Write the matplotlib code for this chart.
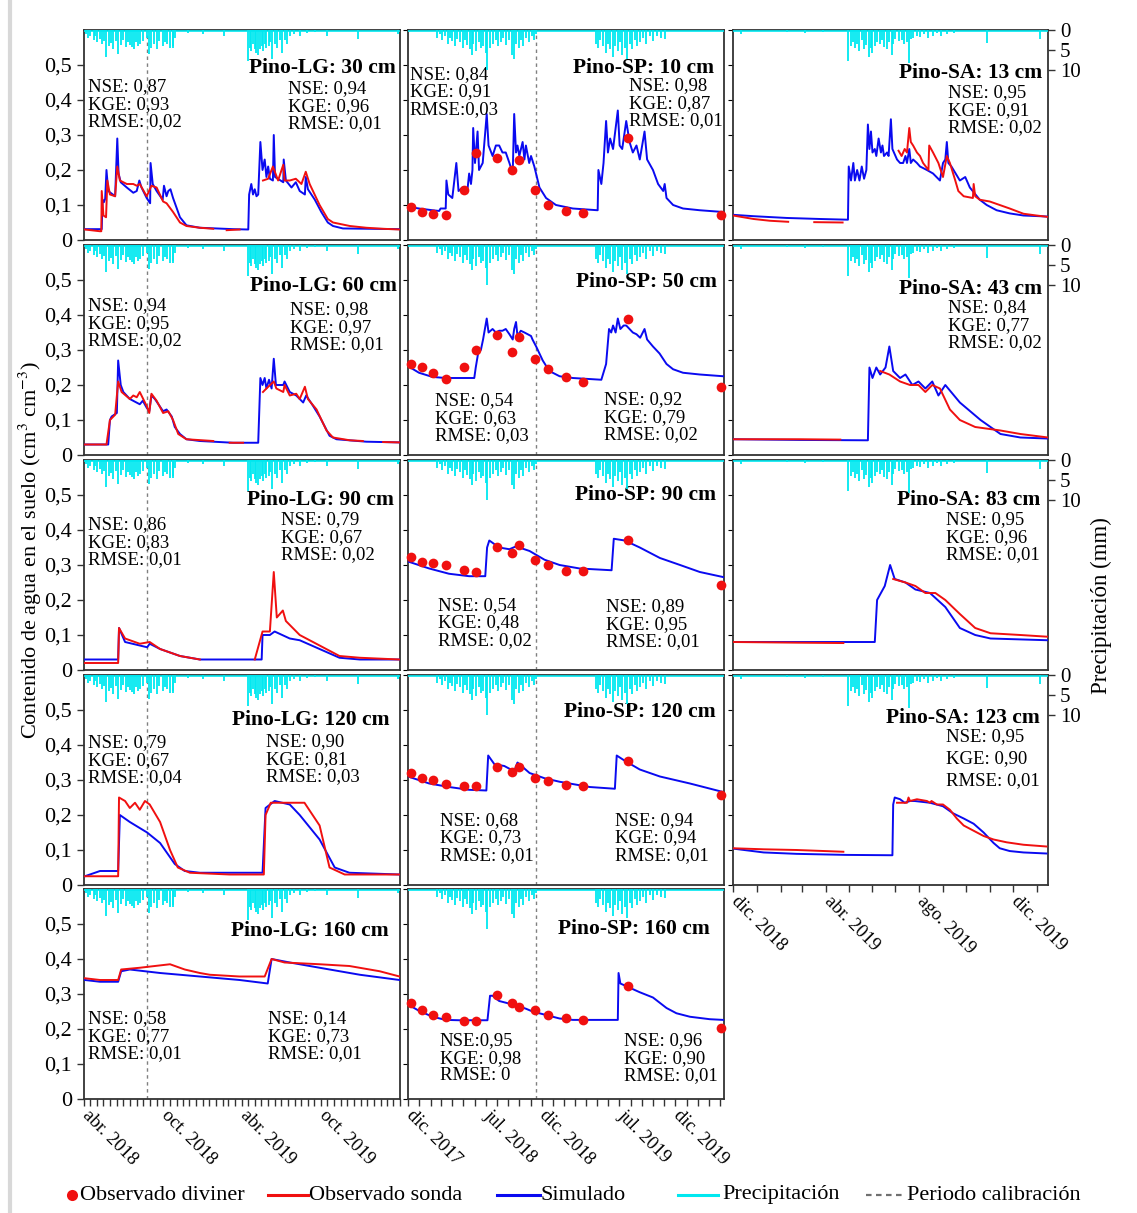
import numpy as np
import pandas as pd
import matplotlib
matplotlib.use("Agg")
import matplotlib.pyplot as plt
import matplotlib.dates as mdates
import matplotlib.transforms as mtransforms
from matplotlib.lines import Line2D

plt.rcParams['font.family'] = ['Liberation Serif', 'DejaVu Serif']
plt.rcParams['mathtext.fontset'] = 'stix'

# ---------------------------------------------------------------------------
# data: times are days since the start of each site's record
# ---------------------------------------------------------------------------
LG_START, LG_END = '2018-04-01', '2020-04-01'
SP_START, SP_END = '2017-12-01', '2020-04-12'
SA_START, SA_END = '2018-12-01', '2020-01-16'

LG_CALIB = '2018-08-24'
SP_CALIB = '2018-11-16'

# daily precipitation (mm)
lg_rain_t = [5, 10, 15, 22, 25, 31, 37, 41, 46, 52, 58, 62, 68, 73, 79, 85, 91, 97, 101, 106,
             110, 116, 120, 124, 129, 136, 145, 151, 156, 162, 168, 174, 182, 187, 193, 199, 205,
             207, 210, 241, 276, 323, 380, 384, 387, 391, 395, 399, 403, 407, 411, 414, 419, 422,
             427, 431, 436, 441, 447, 453, 459, 464, 470, 476, 485, 499, 516, 534, 561, 634, 726]
lg_rain_mm = [1.1, 2.0, 1.4, 2.5, 1.6, 3.0, 2.3, 3.4, 2.7, 6.7, 3.9, 3.2, 4.8, 2.7, 5.9, 3.6, 2.5,
              4.2, 3.0, 3.6, 4.2, 4.8, 3.0, 3.9, 3.4, 2.7, 2.0, 6.0, 4.4, 3.4, 4.8, 2.7, 3.9, 3.0,
              3.4, 4.4, 3.9, 4.4, 2.0, 0.8, 1.1, 1.4, 7.6, 4.4, 5.3, 3.4, 4.8, 5.7, 6.2, 4.8, 3.9,
              5.3, 3.4, 4.4, 3.9, 3.0, 7.1, 3.4, 4.4, 2.5, 5.7, 2.5, 3.4, 1.6, 1.1, 1.4, 0.8, 0.6,
              1.4, 2.3, 1.1]

sp_rain_t = [80, 87, 94, 100, 108, 114, 121, 129, 135, 142, 149, 156, 162, 169, 174, 178, 185,
             193, 199, 205, 213, 217, 224, 231, 240, 247, 254, 260, 267, 275, 284, 290, 295, 302,
             308, 315, 322, 331, 339, 345, 350, 514, 519, 525, 532, 540, 546, 552, 560, 566, 573,
             578, 585, 592, 598, 605, 613, 619, 625, 633, 642, 651, 660, 669, 680, 692, 703]
sp_rain_mm = [2.0, 1.1, 2.5, 1.6, 3.4, 2.0, 2.7, 3.9, 2.3, 3.0, 4.4, 2.5, 3.6, 4.8, 6.2, 3.4, 5.3,
              3.0, 4.4, 3.9, 5.7, 9.9, 4.4, 3.4, 2.5, 3.9, 3.0, 2.0, 3.6, 2.5, 6.2, 7.1, 3.4, 4.4,
              2.5, 3.9, 2.0, 3.0, 1.6, 2.5, 1.1, 3.4, 4.4, 2.5, 3.9, 5.7, 3.4, 4.8, 6.7, 3.9, 5.3,
              3.0, 6.2, 4.4, 7.1, 3.4, 4.8, 2.5, 3.9, 3.0, 2.0, 3.4, 1.6, 2.7, 1.4, 2.0, 2.3]

sa_rain_t = [10, 70, 94, 118, 150, 154, 156, 159, 162, 165, 168, 171, 174, 177, 180, 182, 185,
             188, 192, 195, 197, 201, 204, 207, 209, 212, 216, 220, 223, 227, 229, 232, 235, 240,
             244, 249, 255, 261, 266, 272, 279, 288, 331, 401]
sa_rain_mm = [1.1, 0.6, 0.8, 0.6, 7.6, 3.9, 3.0, 4.4, 3.4, 5.3, 2.5, 4.8, 3.6, 6.7, 4.4, 5.7, 3.9,
              3.0, 3.4, 2.5, 4.2, 4.8, 3.0, 6.2, 3.4, 2.3, 2.7, 2.5, 3.4, 3.0, 8.1, 2.3, 2.0, 1.4,
              1.8, 1.1, 2.0, 1.6, 0.8, 1.4, 1.1, 0.8, 3.2, 2.3]

nan = np.nan

# --- Pino-LG: simulated and probe series
lg30_sim_t = [2, 41, 43, 46, 49, 52, 56, 72, 77, 80, 85, 99, 114, 122, 128, 133, 145, 153, 154,
              159, 168, 182, 185, 191, 195, 200, 206, 222, 237, 268, 345, 380, 382, 387, 391, 395,
              399, 403, 408, 413, 418, 422, 426, 430, 437, 439, 442, 461, 462, 467, 480, 490, 499,
              511, 513, 518, 534, 549, 564, 576, 599, 730]
lg30_sim_v = [0.031, 0.031, 0.115, 0.108, 0.118, 0.20, 0.14, 0.125, 0.29, 0.19, 0.165, 0.15,
              0.135, 0.14, 0.17, 0.15, 0.12, 0.105, 0.22, 0.16, 0.14, 0.115, 0.155, 0.125, 0.14,
              0.145, 0.12, 0.065, 0.042, 0.035, 0.031, 0.03, 0.13, 0.16, 0.13, 0.145, 0.125, 0.13,
              0.28, 0.2, 0.23, 0.18, 0.21, 0.175, 0.17, 0.30, 0.18, 0.165, 0.23, 0.17, 0.15, 0.165,
              0.14, 0.13, 0.18, 0.145, 0.115, 0.08, 0.05, 0.04, 0.033, 0.031]
lg30_obs_t = [2, 37, 40, 41, 45, 51, 54, 60, 72, 77, 83, 99, 114, 122, 129, 145, 156, 168, 183,
              191, 206, 222, 237, 268, 299, 300, 330, 360, 361, 414, 426, 437, 449, 461, 464, 476,
              490, 503, 513, 522, 545, 564, 576, 615, 653, 692, 730]
lg30_obs_v = [0.03, 0.025, 0.025, 0.14, 0.07, 0.065, 0.17, 0.13, 0.125, 0.21, 0.17, 0.16, 0.16,
              0.155, 0.16, 0.125, 0.155, 0.15, 0.11, 0.105, 0.08, 0.05, 0.04, 0.035, 0.032, nan,
              0.028, 0.03, nan, 0.17, 0.175, 0.21, 0.17, 0.215, 0.17, 0.17, 0.175, 0.16, 0.195,
              0.16, 0.1, 0.06, 0.05, 0.04, 0.035, 0.032, 0.03]

lg60_sim_t = [2, 56, 60, 64, 76, 79, 85, 91, 106, 129, 136, 145, 151, 156, 164, 183, 191, 203,
              210, 222, 237, 268, 345, 403, 408, 413, 418, 422, 428, 434, 439, 444, 461, 464, 476,
              491, 507, 514, 530, 545, 568, 584, 653, 730]
lg60_sim_v = [0.03, 0.03, 0.1, 0.11, 0.12, 0.27, 0.2, 0.18, 0.16, 0.145, 0.155, 0.135, 0.125,
              0.17, 0.16, 0.125, 0.13, 0.11, 0.08, 0.06, 0.045, 0.04, 0.035, 0.035, 0.22, 0.2,
              0.22, 0.19, 0.215, 0.19, 0.275, 0.2, 0.2, 0.21, 0.18, 0.17, 0.15, 0.17, 0.14, 0.11,
              0.055, 0.045, 0.038, 0.036]
lg60_obs_t = [2, 52, 60, 72, 79, 87, 106, 114, 122, 129, 145, 151, 156, 168, 183, 195, 206, 218,
              237, 299, 300, 337, 368, 369, 414, 422, 439, 445, 461, 464, 476, 491, 499, 511, 518,
              538, 561, 576, 615, 645, 646, 692, 730]
lg60_obs_v = [0.03, 0.03, 0.1, 0.115, 0.21, 0.18, 0.16, 0.17, 0.165, 0.18, 0.14, 0.12, 0.175,
              0.155, 0.12, 0.125, 0.1, 0.06, 0.045, 0.04, nan, 0.035, 0.035, nan, 0.18, 0.19,
              0.21, 0.19, 0.18, 0.2, 0.17, 0.175, 0.16, 0.195, 0.16, 0.13, 0.07, 0.05, 0.042,
              0.04, nan, 0.037, 0.036]

lg90_sim_t = [2, 79, 81, 95, 129, 146, 152, 176, 222, 268, 411, 413, 430, 441, 476, 499, 545,
              591, 638, 730]
lg90_sim_v = [0.03, 0.03, 0.12, 0.08, 0.07, 0.065, 0.075, 0.06, 0.04, 0.03, 0.03, 0.1, 0.1,
              0.11, 0.09, 0.085, 0.06, 0.035, 0.03, 0.03]
lg90_obs_t = [2, 79, 81, 95, 129, 152, 176, 222, 268, 269, 395, 413, 430, 439, 446, 460, 467,
              499, 545, 591, 638, 730]
lg90_obs_v = [0.02, 0.02, 0.12, 0.09, 0.075, 0.08, 0.06, 0.04, 0.03, nan, 0.03, 0.11, 0.11,
              0.28, 0.15, 0.17, 0.14, 0.1, 0.07, 0.04, 0.035, 0.03]

lg120_sim_t = [2, 37, 79, 83, 106, 146, 176, 210, 233, 268, 413, 420, 441, 476, 499, 545, 580,
               614, 730]
lg120_sim_v = [0.025, 0.04, 0.04, 0.2, 0.18, 0.15, 0.12, 0.06, 0.04, 0.035, 0.035, 0.22, 0.24,
               0.23, 0.2, 0.13, 0.05, 0.035, 0.03]
lg120_obs_t = [2, 79, 81, 95, 106, 118, 129, 141, 152, 176, 199, 217, 245, 337, 416, 420, 432,
               476, 510, 545, 568, 603, 730]
lg120_obs_v = [0.025, 0.025, 0.25, 0.24, 0.22, 0.235, 0.215, 0.24, 0.23, 0.18, 0.1, 0.05, 0.035,
               0.03, 0.03, 0.2, 0.235, 0.235, 0.235, 0.17, 0.05, 0.03, 0.03]

lg160_sim_t = [2, 37, 79, 86, 106, 176, 268, 360, 425, 434, 476, 545, 638, 730]
lg160_sim_v = [0.34, 0.335, 0.335, 0.365, 0.37, 0.36, 0.35, 0.34, 0.33, 0.4, 0.39, 0.375, 0.355,
               0.34]
lg160_obs_t = [2, 37, 79, 86, 129, 199, 233, 268, 291, 360, 418, 434, 464, 545, 614, 684, 730]
lg160_obs_v = [0.345, 0.34, 0.34, 0.37, 0.375, 0.385, 0.37, 0.36, 0.355, 0.35, 0.35, 0.4, 0.39,
               0.385, 0.38, 0.365, 0.35]

# --- Pino-SP: simulated series and diviner readings
sp_div_t = [7, 39, 69, 103, 153, 187, 242, 284, 304, 347, 383, 432, 479, 601, 854]

sp10_sim_t = [0, 30, 67, 85, 89, 103, 105, 110, 121, 132, 138, 149, 162, 167, 172, 176, 178, 183,
              190, 194, 204, 215, 220, 231, 240, 249, 258, 267, 277, 286, 290, 295, 299, 304, 313,
              318, 322, 331, 336, 345, 359, 377, 404, 450, 518, 520, 528, 534, 541, 546, 552, 560,
              573, 578, 585, 596, 605, 614, 624, 633, 646, 653, 669, 683, 697, 701, 706, 724, 751,
              797, 861]
sp10_sim_v = [0.095, 0.09, 0.085, 0.083, 0.09, 0.09, 0.17, 0.13, 0.12, 0.22, 0.14, 0.15, 0.14,
              0.19, 0.16, 0.2, 0.32, 0.22, 0.31, 0.2, 0.22, 0.36, 0.27, 0.24, 0.27, 0.27, 0.25,
              0.25, 0.22, 0.19, 0.36, 0.25, 0.27, 0.24, 0.28, 0.23, 0.27, 0.22, 0.24, 0.21, 0.15,
              0.12, 0.1, 0.09, 0.085, 0.2, 0.16, 0.22, 0.34, 0.25, 0.29, 0.26, 0.37, 0.27, 0.26,
              0.34, 0.28, 0.25, 0.27, 0.23, 0.31, 0.23, 0.2, 0.16, 0.14, 0.16, 0.12, 0.1, 0.09,
              0.085, 0.08]
sp10_div_v = [0.093, 0.079, 0.073, 0.072, 0.144, 0.249, 0.235, 0.201, 0.23, 0.142, 0.099, 0.082,
              0.077, 0.292, 0.071]

sp50_sim_t = [0, 30, 67, 103, 181, 185, 193, 199, 205, 215, 220, 231, 240, 249, 258, 267, 277,
              286, 290, 295, 299, 308, 318, 327, 336, 340, 350, 368, 386, 414, 450, 528, 541, 549,
              555, 560, 567, 573, 580, 589, 596, 605, 614, 624, 634, 646, 653, 669, 687, 706, 724,
              751, 797, 861]
sp50_sim_v = [0.254, 0.235, 0.223, 0.22, 0.22, 0.25, 0.3, 0.3, 0.33, 0.39, 0.35, 0.36, 0.35,
              0.355, 0.355, 0.36, 0.345, 0.33, 0.36, 0.38, 0.34, 0.355, 0.35, 0.345, 0.34, 0.33,
              0.31, 0.27, 0.24, 0.225, 0.22, 0.215, 0.26, 0.36, 0.35, 0.37, 0.35, 0.39, 0.36, 0.37,
              0.37, 0.36, 0.35, 0.345, 0.335, 0.36, 0.33, 0.31, 0.29, 0.26, 0.245, 0.235, 0.23,
              0.225]
sp50_div_v = [0.26, 0.252, 0.233, 0.217, 0.251, 0.3, 0.342, 0.295, 0.337, 0.275, 0.247, 0.223,
              0.209, 0.388, 0.193]

sp90_sim_t = [0, 58, 112, 167, 211, 216, 222, 249, 277, 299, 304, 332, 373, 414, 469, 556, 562,
              592, 633, 688, 743, 797, 863]
sp90_sim_v = [0.31, 0.29, 0.275, 0.268, 0.268, 0.35, 0.37, 0.35, 0.345, 0.355, 0.35, 0.34, 0.315,
              0.3, 0.29, 0.285, 0.375, 0.37, 0.35, 0.32, 0.3, 0.28, 0.265]
sp90_div_v = [0.322, 0.31, 0.305, 0.3, 0.287, 0.279, 0.351, 0.333, 0.356, 0.313, 0.299, 0.284,
              0.282, 0.371, 0.244]

sp120_sim_t = [0, 58, 112, 167, 214, 219, 236, 263, 290, 299, 332, 373, 414, 496, 565, 570, 592,
               633, 688, 770, 863]
sp120_sim_v = [0.31, 0.29, 0.28, 0.272, 0.27, 0.37, 0.345, 0.34, 0.325, 0.35, 0.32, 0.305, 0.295,
               0.28, 0.275, 0.37, 0.355, 0.33, 0.31, 0.29, 0.265]
sp120_div_v = [0.319, 0.307, 0.299, 0.29, 0.284, 0.282, 0.336, 0.322, 0.336, 0.307, 0.296, 0.287,
               0.282, 0.353, 0.256]

sp160_sim_t = [0, 30, 67, 103, 140, 217, 224, 231, 249, 286, 322, 340, 377, 414, 450, 573, 575,
               580, 601, 633, 669, 706, 733, 770, 824, 861]
sp160_sim_v = [0.27, 0.252, 0.235, 0.226, 0.225, 0.225, 0.295, 0.295, 0.28, 0.27, 0.258, 0.25,
               0.24, 0.23, 0.226, 0.226, 0.36, 0.33, 0.32, 0.305, 0.29, 0.26, 0.245, 0.235, 0.228,
               0.226]
sp160_div_v = [0.275, 0.255, 0.241, 0.234, 0.224, 0.224, 0.298, 0.274, 0.264, 0.255, 0.24, 0.232,
               0.226, 0.322, 0.202]

# --- Pino-SA: simulated and probe series
sa13_sim_t = [0, 27, 70, 114, 150, 151, 154, 157, 159, 162, 165, 168, 171, 174, 176, 178, 180,
              182, 185, 187, 190, 193, 195, 197, 201, 203, 206, 208, 214, 218, 222, 225, 227, 230,
              232, 235, 240, 244, 253, 261, 270, 274, 277, 279, 281, 285, 296, 303, 309, 322, 331,
              344, 361, 379, 411]
sa13_sim_v = [0.072, 0.068, 0.063, 0.06, 0.058, 0.21, 0.17, 0.22, 0.17, 0.2, 0.17, 0.21, 0.175,
              0.2, 0.33, 0.26, 0.31, 0.25, 0.26, 0.24, 0.29, 0.25, 0.27, 0.24, 0.25, 0.24, 0.345,
              0.26, 0.23, 0.22, 0.22, 0.24, 0.22, 0.26, 0.22, 0.23, 0.22, 0.21, 0.2, 0.19, 0.17,
              0.22, 0.23, 0.28, 0.22, 0.21, 0.17, 0.18, 0.15, 0.115, 0.1, 0.085, 0.076, 0.07, 0.067]
sa13_obs_t = [0, 27, 48, 72, 73, 106, 143, 144, 216, 220, 224, 227, 230, 232, 235, 240, 244, 248,
              255, 256, 261, 268, 274, 279, 283, 290, 294, 301, 313, 314, 316, 322, 335, 348, 361,
              379, 396, 411]
sa13_obs_v = [0.07, 0.06, 0.055, 0.052, nan, 0.051, 0.05, nan, 0.255, 0.24, 0.26, 0.25, 0.32,
              0.28, 0.27, 0.25, 0.24, 0.22, 0.2, 0.27, 0.25, 0.22, 0.18, 0.24, 0.22, 0.17, 0.14,
              0.125, 0.12, 0.16, 0.125, 0.115, 0.11, 0.1, 0.09, 0.075, 0.07, 0.066]

sa43_sim_t = [0, 88, 176, 178, 182, 187, 192, 199, 204, 209, 218, 225, 234, 242, 251, 260, 268,
              277, 296, 323, 349, 375, 411]
sa43_sim_v = [0.045, 0.043, 0.042, 0.25, 0.22, 0.25, 0.23, 0.25, 0.31, 0.24, 0.22, 0.23, 0.2,
              0.21, 0.19, 0.21, 0.17, 0.2, 0.15, 0.1, 0.06, 0.05, 0.047]
sa43_obs_t = [0, 88, 140, 141, 192, 204, 218, 231, 242, 251, 260, 270, 283, 296, 316, 349, 375,
              411]
sa43_obs_v = [0.045, 0.045, 0.044, nan, 0.24, 0.23, 0.21, 0.2, 0.2, 0.18, 0.2, 0.19, 0.13, 0.1,
              0.08, 0.07, 0.06, 0.05]

sa83_sim_t = [0, 88, 185, 188, 198, 205, 211, 225, 238, 257, 277, 296, 316, 336, 411]
sa83_sim_v = [0.08, 0.08, 0.08, 0.2, 0.24, 0.3, 0.26, 0.25, 0.23, 0.22, 0.18, 0.12, 0.1, 0.09,
              0.085]
sa83_obs_t = [0, 88, 144, 145, 209, 225, 238, 251, 264, 277, 296, 316, 336, 375, 411]
sa83_obs_v = [0.08, 0.078, 0.077, nan, 0.26, 0.25, 0.24, 0.22, 0.22, 0.2, 0.16, 0.12, 0.105, 0.1,
              0.095]

sa123_sim_t = [0, 40, 83, 148, 208, 209, 211, 218, 224, 231, 237, 257, 274, 287, 301, 314, 327,
               340, 348, 361, 379, 409]
sa123_sim_v = [0.104, 0.093, 0.089, 0.086, 0.085, 0.23, 0.25, 0.245, 0.235, 0.24, 0.24, 0.235,
               0.225, 0.205, 0.19, 0.175, 0.15, 0.12, 0.105, 0.097, 0.093, 0.09]
sa123_obs_t = [0, 40, 83, 144, 145, 214, 227, 229, 231, 240, 253, 257, 259, 266, 274, 283, 292,
               301, 314, 327, 340, 357, 379, 409]
sa123_obs_v = [0.105, 0.102, 0.1, 0.095, nan, 0.235, 0.235, 0.25, 0.24, 0.245, 0.24, 0.235, 0.24,
               0.23, 0.23, 0.215, 0.19, 0.17, 0.155, 0.14, 0.13, 0.122, 0.115, 0.11]

# goodness-of-fit labels (calibration, validation)
lg_labels = ['Pino-LG: 30 cm', 'Pino-LG: 60 cm', 'Pino-LG: 90 cm', 'Pino-LG: 120 cm',
             'Pino-LG: 160 cm']
lg_stats = [('NSE: 0,87\nKGE: 0,93\nRMSE: 0,02', 'NSE: 0,94\nKGE: 0,96\nRMSE: 0,01'),
            ('NSE: 0,94\nKGE: 0,95\nRMSE: 0,02', 'NSE: 0,98\nKGE: 0,97\nRMSE: 0,01'),
            ('NSE: 0,86\nKGE: 0,83\nRMSE: 0,01', 'NSE: 0,79\nKGE: 0,67\nRMSE: 0,02'),
            ('NSE: 0,79\nKGE: 0,67\nRMSE: 0,04', 'NSE: 0,90\nKGE: 0,81\nRMSE: 0,03'),
            ('NSE: 0,58\nKGE: 0,77\nRMSE: 0,01', 'NSE: 0,14\nKGE: 0,73\nRMSE: 0,01')]
sp_labels = ['Pino-SP: 10 cm', 'Pino-SP: 50 cm', 'Pino-SP: 90 cm', 'Pino-SP: 120 cm',
             'Pino-SP: 160 cm']
sp_stats = [('NSE: 0,84\nKGE: 0,91\nRMSE:0,03', 'NSE: 0,98\nKGE: 0,87\nRMSE: 0,01'),
            ('NSE: 0,54\nKGE: 0,63\nRMSE: 0,03', 'NSE: 0,92\nKGE: 0,79\nRMSE: 0,02'),
            ('NSE: 0,54\nKGE: 0,48\nRMSE: 0,02', 'NSE: 0,89\nKGE: 0,95\nRMSE: 0,01'),
            ('NSE: 0,68\nKGE: 0,73\nRMSE: 0,01', 'NSE: 0,94\nKGE: 0,94\nRMSE: 0,01'),
            ('NSE:0,95\nKGE: 0,98\nRMSE: 0', 'NSE: 0,96\nKGE: 0,90\nRMSE: 0,01')]
sa_labels = ['Pino-SA: 13 cm', 'Pino-SA: 43 cm', 'Pino-SA: 83 cm', 'Pino-SA: 123 cm']
sa_stats = ['NSE: 0,95\nKGE: 0,91\nRMSE: 0,02', 'NSE: 0,84\nKGE: 0,77\nRMSE: 0,02',
            'NSE: 0,95\nKGE: 0,96\nRMSE: 0,01', 'NSE: 0,95\nKGE: 0,90\nRMSE: 0,01']

lg_ticks = ['2018-04-01', '2018-10-01', '2019-04-01', '2019-10-01']
lg_ticklabels = ['abr. 2018', 'oct. 2018', 'abr. 2019', 'oct. 2019']
sp_ticks = ['2017-12-01', '2018-07-01', '2018-12-01', '2019-07-01', '2019-12-01']
sp_ticklabels = ['dic. 2017', 'jul. 2018', 'dic. 2018', 'jul. 2019', 'dic. 2019']
sa_ticks = ['2018-12-01', '2019-04-01', '2019-08-01', '2019-12-01']
sa_ticklabels = ['dic. 2018', 'abr. 2019', 'ago. 2019', 'dic. 2019']

# ---------------------------------------------------------------------------
RED = '#f01010'
BLUE = '#0a0af0'
CYAN = '#00e8f0'
FRAME = '#333333'
W, H = 1137, 1213
RAIN_MAX = 52      # precipitation axis runs 0 (top) .. RAIN_MAX (bottom)
STAT_LS = 1.05


def days_to_dates(start, days):
    return np.datetime64(start, 'D') + np.round(np.asarray(days, dtype=float)).astype('timedelta64[D]')


fig = plt.figure(figsize=(W / 100, H / 100), dpi=100)


def add_panel(left, top, width=316, height=210):
    return fig.add_axes([left / W, 1 - (top + height) / H, width / W, height / H])


def draw_panel(ax, start, end, rain_t, rain_mm, sim_t, sim_v, obs_t=None, obs_v=None,
               div_t=None, div_v=None, calib=None):
    ax.set_xlim(np.datetime64(start), np.datetime64(end))
    ax.set_ylim(0, 0.6)
    if calib is not None:
        ax.axvline(np.datetime64(calib), color='#808080', lw=1.0, ls=(0, (2.5, 2.5)), zorder=1)
    ax.plot(days_to_dates(start, sim_t), sim_v, color=BLUE, lw=1.4, zorder=3)
    if obs_t is not None:
        ax.plot(days_to_dates(start, obs_t), obs_v, color=RED, lw=1.4, zorder=4)
    if div_t is not None:
        ax.plot(days_to_dates(start, div_t), div_v, 'o', color=RED, ms=7, mec='none',
                zorder=5, clip_on=False)
    for s in ax.spines.values():
        s.set_color(FRAME)
        s.set_linewidth(1.3)
    ax.tick_params(axis='x', which='both', bottom=False, labelbottom=False)
    ax.tick_params(axis='y', left=False, labelleft=False)

    # precipitation hanging from the top edge
    ax2 = ax.twinx()
    ax2.set_ylim(RAIN_MAX, 0)
    rd = days_to_dates(start, rain_t)
    ax2.vlines(rd, 0, rain_mm, color=CYAN, lw=1.3)
    ax2.axhline(0.35, color=CYAN, lw=1.2)
    ax2.set_yticks([])
    for s in ax2.spines.values():
        s.set_visible(False)
    return ax2


def add_texts(ax, title, title_xy, stats):
    ax.text(title_xy[0], title_xy[1], title, transform=ax.transAxes, ha='right', va='center',
            fontsize=15.5, fontweight='bold', zorder=6)
    for txt, (x, y), ls in stats:
        ax.text(x, y, txt, transform=ax.transAxes, ha='left', va='top', fontsize=13.5,
                linespacing=ls, zorder=6)


def set_date_axis(ax, ticks, labels, minor_days):
    ax.tick_params(axis='x', which='both', bottom=True, labelbottom=True, direction='out',
                   length=5, width=1, color=FRAME, pad=5)
    ax.set_xticks([np.datetime64(t) for t in ticks])
    ax.set_xticklabels(labels, rotation=-45, ha='left', va='center', rotation_mode='anchor',
                       fontsize=13.5)
    shift = mtransforms.ScaledTranslation(1 / 100, 0, fig.dpi_scale_trans)
    for lab in ax.get_xticklabels():
        lab.set_transform(lab.get_transform() + shift)
    ax.xaxis.set_minor_locator(mdates.MonthLocator(bymonthday=minor_days))


col_left = [84, 408, 733]
row_top = [30, 245, 460, 675, 889]

# text placement (axes fraction)
lg_title_xy = [(0.987, 0.819), (0.99, 0.805), (0.981, 0.81), (0.968, 0.786), (0.965, 0.80)]
lg_stat_xy = [((0.013, 0.771), (0.646, 0.762)), ((0.013, 0.752), (0.652, 0.733)),
              ((0.013, 0.733), (0.623, 0.757)), ((0.013, 0.719), (0.576, 0.724)),
              ((0.013, 0.424), (0.582, 0.424))]
sp_title_xy = [(0.968, 0.819), (0.978, 0.824), (0.975, 0.833), (0.972, 0.824), (0.956, 0.81)]
sp_stat_xy = [((0.006, 0.829), (0.699, 0.776)), ((0.085, 0.30), (0.62, 0.305)),
              ((0.095, 0.348), (0.627, 0.343)), ((0.101, 0.348), (0.655, 0.348)),
              ((0.101, 0.319), (0.684, 0.319))]
sa_title_xy = [(0.981, 0.795), (0.981, 0.79), (0.975, 0.81), (0.975, 0.795)]
sa_stat_xy = [(0.683, 0.743), (0.683, 0.743), (0.676, 0.757), (0.676, 0.748)]

lg_series = [(lg30_sim_t, lg30_sim_v, lg30_obs_t, lg30_obs_v),
             (lg60_sim_t, lg60_sim_v, lg60_obs_t, lg60_obs_v),
             (lg90_sim_t, lg90_sim_v, lg90_obs_t, lg90_obs_v),
             (lg120_sim_t, lg120_sim_v, lg120_obs_t, lg120_obs_v),
             (lg160_sim_t, lg160_sim_v, lg160_obs_t, lg160_obs_v)]
sp_series = [(sp10_sim_t, sp10_sim_v, sp10_div_v), (sp50_sim_t, sp50_sim_v, sp50_div_v),
             (sp90_sim_t, sp90_sim_v, sp90_div_v), (sp120_sim_t, sp120_sim_v, sp120_div_v),
             (sp160_sim_t, sp160_sim_v, sp160_div_v)]
sa_series = [(sa13_sim_t, sa13_sim_v, sa13_obs_t, sa13_obs_v),
             (sa43_sim_t, sa43_sim_v, sa43_obs_t, sa43_obs_v),
             (sa83_sim_t, sa83_sim_v, sa83_obs_t, sa83_obs_v),
             (sa123_sim_t, sa123_sim_v, sa123_obs_t, sa123_obs_v)]

# column 1: Pino-LG
for i, (st, sv, ot, ov) in enumerate(lg_series):
    ax = add_panel(col_left[0], row_top[i])
    draw_panel(ax, LG_START, LG_END, lg_rain_t, lg_rain_mm, st, sv, ot, ov, calib=LG_CALIB)
    ax.tick_params(axis='y', left=True, labelleft=True, direction='out', length=5, width=1,
                   color=FRAME, labelsize=16)
    ax.set_yticks([0, 0.1, 0.2, 0.3, 0.4, 0.5])
    ax.set_yticklabels(['0', '0,1', '0,2', '0,3', '0,4', '0,5'])
    add_texts(ax, lg_labels[i], lg_title_xy[i],
              [(lg_stats[i][0], lg_stat_xy[i][0], STAT_LS),
               (lg_stats[i][1], lg_stat_xy[i][1], STAT_LS)])
    if i == 4:
        set_date_axis(ax, lg_ticks, lg_ticklabels, [1, 16])

# column 2: Pino-SP
for i, (st, sv, dv) in enumerate(sp_series):
    ax = add_panel(col_left[1], row_top[i])
    draw_panel(ax, SP_START, SP_END, sp_rain_t, sp_rain_mm, st, sv, div_t=sp_div_t, div_v=dv,
               calib=SP_CALIB)
    add_texts(ax, sp_labels[i], sp_title_xy[i],
              [(sp_stats[i][0], sp_stat_xy[i][0], STAT_LS),
               (sp_stats[i][1], sp_stat_xy[i][1], STAT_LS)])
    if i == 4:
        set_date_axis(ax, sp_ticks, sp_ticklabels, [1])

# column 3: Pino-SA
for i, (st, sv, ot, ov) in enumerate(sa_series):
    ax = add_panel(col_left[2], row_top[i], width=315)
    ax2 = draw_panel(ax, SA_START, SA_END, sa_rain_t, sa_rain_mm, st, sv, ot, ov)
    ax2.set_yticks([0, 5, 10])
    ax2.tick_params(axis='y', right=True, labelright=True, direction='out', length=5, width=1,
                    color=FRAME, labelsize=15)
    add_texts(ax, sa_labels[i], sa_title_xy[i],
              [(sa_stats[i], sa_stat_xy[i], 1.38 if i == 3 else STAT_LS)])
    if i == 3:
        set_date_axis(ax, sa_ticks, sa_ticklabels, [1])

# axis titles
fig.text(30 / W, 1 - 550 / H, 'Contenido de agua en el suelo (cm$^3$ cm$^{-3}$)', rotation=90,
         ha='center', va='center', fontsize=16)
fig.text(1101 / W, 1 - 606 / H, 'Precipitación (mm)', rotation=90, ha='center', va='center',
         fontsize=16.5)

# legend row
ly = 1 - 1195 / H
fig.add_artist(Line2D([72 / W], [ly], marker='o', color=RED, ms=8, mec='none',
                      transform=fig.transFigure))
legend_lines = [((268, 308), RED, '-'), ((497, 540), BLUE, '-'), ((678, 718), CYAN, '-'),
                ((866, 905), '#707070', (0, (2.5, 2.0)))]
for (x0, x1), c, ls in legend_lines:
    fig.add_artist(Line2D([x0 / W, x1 / W], [ly, ly], color=c, lw=2.2 if c != '#707070' else 1.6,
                          ls=ls, transform=fig.transFigure))
legend_text = [(80, 'Observado diviner'), (309, 'Observado sonda'), (541, 'Simulado'),
               (722, 'Precipitación'), (907, 'Periodo calibración')]
for x, t in legend_text:
    fig.text(x / W, ly, t, ha='left', va='center', fontsize=16)

# light frame on the left edge
fig.add_artist(Line2D([10 / W, 10 / W], [0, 1], color='#d8d8d8', lw=3,
                      transform=fig.transFigure))

fig.savefig('out.png', dpi=100)
